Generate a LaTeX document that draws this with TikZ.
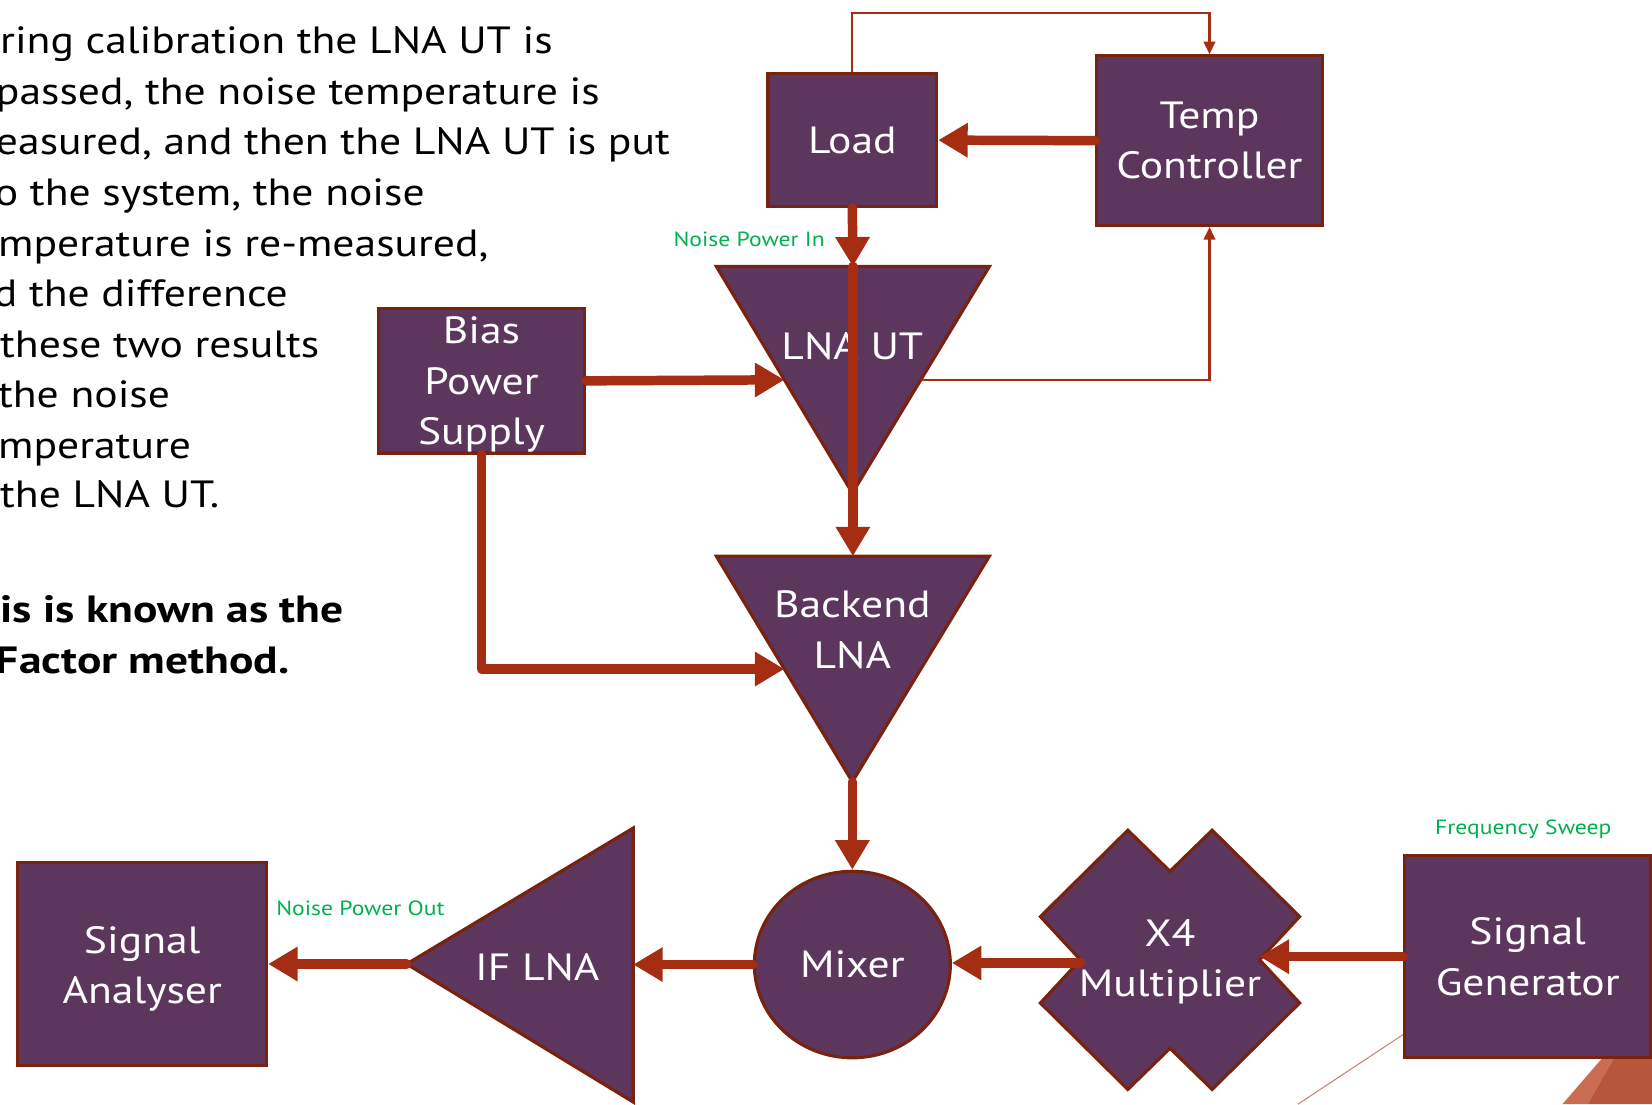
\documentclass[tikz,border=0pt]{standalone}
\usepackage{fontspec}
\setmainfont{PT Sans}[FakeStretch=1.15,BoldFeatures={FakeStretch=1.2}]
\usetikzlibrary{arrows.meta,calc,shapes.geometric}

\definecolor{boxfill}{RGB}{93,54,94}
\definecolor{boxline}{RGB}{120,34,16}
\definecolor{wire}{RGB}{165,46,18}
\definecolor{tagcol}{RGB}{0,176,80}

\tikzset{
  block/.style={draw=boxline,line width=3pt,fill=boxfill,text=white,align=center,inner sep=0pt,font=\fontsize{36}{48}\selectfont},
  amp/.style={draw=boxline,line width=3pt,fill=boxfill,line join=miter},
  ampname/.style={text=white,align=center,inner sep=0pt,font=\fontsize{36}{48}\selectfont},
  bigarrow/.style={draw=wire,line width=9pt,line cap=round,line join=round,-{Triangle[length=28pt,width=31pt]}},
  thinarrow/.style={draw=wire,line width=2pt,-{Triangle[length=12pt,width=11pt]}},
  tag/.style={text=tagcol,inner sep=0pt,font=\fontsize{19.5}{22}\selectfont},
  note/.style={anchor=base west,inner sep=0pt,font=\fontsize{36}{48}\selectfont}
}

\begin{document}
\begin{tikzpicture}[x=1pt,y=1pt,yscale=-1,xscale=1]
\useasboundingbox (0,0) rectangle (1568,1048);

% corner decoration of the slide
\fill[color={rgb,255:red,200;green,108;blue,82}] (1483,1048) -- (1521,1004) -- (1532,1004) -- (1507,1048) -- cycle ;
\fill[color={rgb,255:red,184;green,86;blue,60}] (1507,1048) -- (1532,1004) -- (1568,1004) -- (1568,1048) -- cycle ;
\draw[line width=1pt,color={rgb,255:red,196;green,134;blue,118}] (1232,1048) -- (1380,950) ;

% Text Node
\node[note] (note1) at (0,51) {ring calibration the LNA UT is};
\node[note] (note2) at (-4,99) {passed, the noise temperature is};
\node[note] (note3) at (-4,147) {easured, and then the LNA UT is put};
\node[note] (note4) at (-5,195) {o the system, the noise};
\node[note] (note5) at (-2,243) {mperature is re-measured,};
\node[note] (note6) at (-6,291) {d the difference};
\node[note] (note7) at (0,339) {these two results};
\node[note] (note8) at (-2,387) {the noise};
\node[note] (note9) at (-2,435) {mperature};
\node[note] (note10) at (0,482) {the LNA UT.};
\node[note,font=\fontsize{36}{48}\selectfont\bfseries] (note11) at (0,591) {is is known as the};
\node[note,font=\fontsize{36}{48}\selectfont\bfseries] (note12) at (-4,639) {Factor method.};

%Shape: Rectangle
\node[block,minimum width=160,minimum height=126] (load) at (809,133) {Load};
\node[block,minimum width=214,minimum height=161] (tempctl) at (1148,133.5) {Temp\\Controller};
\node[block,minimum width=196,minimum height=137] (bias) at (457,361.5) {\rule{0pt}{33pt}Bias\\Power\\Supply};
\node[block,minimum width=236,minimum height=192] (siganal) at (135,915) {\rule{0pt}{35pt}Signal\\Analyser};
\node[block,minimum width=234,minimum height=192] (siggen) at (1450,908) {Signal\\Generator};
%Shape: Ellipse
\node[block,ellipse,minimum width=186,minimum height=177] (mixer) at (809,915.5) {Mixer};

%Shape: Triangle (LNA UT)
\coordinate (lnaNW) at (680,253);
\coordinate (lnaNE) at (939,253);
\coordinate (lnaS) at (809,468);
\coordinate (lnaN) at ($(lnaNW)!0.5!(lnaNE)$);
\coordinate (lnaW) at ($(lnaNW)!0.5!(lnaS)$);
\coordinate (lnaE) at ($(lnaNE)!0.5!(lnaS)$);
\draw[amp] (lnaNW) -- (lnaNE) -- (lnaS) -- cycle ;
\node[ampname] (lnalabel) at (809,329) {LNA UT};
%Shape: Triangle (Backend LNA)
\coordinate (bkNW) at (680,528);
\coordinate (bkNE) at (939,528);
\coordinate (bkS) at (809,742);
\coordinate (bkN) at ($(bkNW)!0.5!(bkNE)$);
\coordinate (bkW) at ($(bkNW)!0.5!(bkS)$);
\draw[amp] (bkNW) -- (bkNE) -- (bkS) -- cycle ;
\node[ampname] (bklabel) at (809,598) {Backend\\LNA};
%Shape: Triangle (IF LNA)
\coordinate (ifW) at (386,915);
\coordinate (ifNE) at (601,786);
\coordinate (ifSE) at (601,1046);
\coordinate (ifE) at ($(ifNE)!0.5!(ifSE)$);
\draw[amp] (ifW) -- (ifNE) -- (ifSE) -- cycle ;
\node[ampname] (iflabel) at (510,918) {IF LNA};
%Shape: Star (X4 Multiplier)
\begin{scope}[shift={(1110.5,911)}]
\coordinate (x4W) at (-85,3);
\coordinate (x4E) at (85,-3);
\draw[amp] (-40,-123) -- (0,-84) -- (40,-123) -- (123,-41) -- (85,0) -- (123,41) -- (40,123) -- (0,84) -- (-40,123) -- (-123,41) -- (-85,0) -- (-123,-41) -- cycle ;
\node[ampname] (x4label) at (0,2) {X4\\Multiplier};
\end{scope}

%Straight Lines
\draw[bigarrow] (tempctl.west) -- (load.east);
\draw[bigarrow] (load.south) -- (lnaN);
\draw[bigarrow] (lnaN) -- (bkN);
\draw[bigarrow] (bias.east) -- (lnaW);
\draw[bigarrow] (bias.south) |- (bkW);
\draw[bigarrow] (bkS) -- (mixer.north);
\draw[bigarrow] (mixer.west) -- (mixer.west -| ifE);
\draw[bigarrow] (ifW) -- (ifW -| siganal.east);
\draw[bigarrow] (x4W) -- (x4W -| mixer.east);
\draw[bigarrow] (siggen.west) -- (siggen.west -| x4E);
\draw[thinarrow] (load.north) -- ++(0,-56) -| (tempctl.north);
\draw[thinarrow] (lnaE) -| (tempctl.south);

% Text Node
\node[tag,anchor=east] (noisein) at (783,227) {Noise Power In};
\node[tag,anchor=west] (noiseout) at (262,862) {Noise Power Out};
\node[tag,anchor=west] (sweep) at (1362,787) {Frequency Sweep};

\end{tikzpicture}
\end{document}
